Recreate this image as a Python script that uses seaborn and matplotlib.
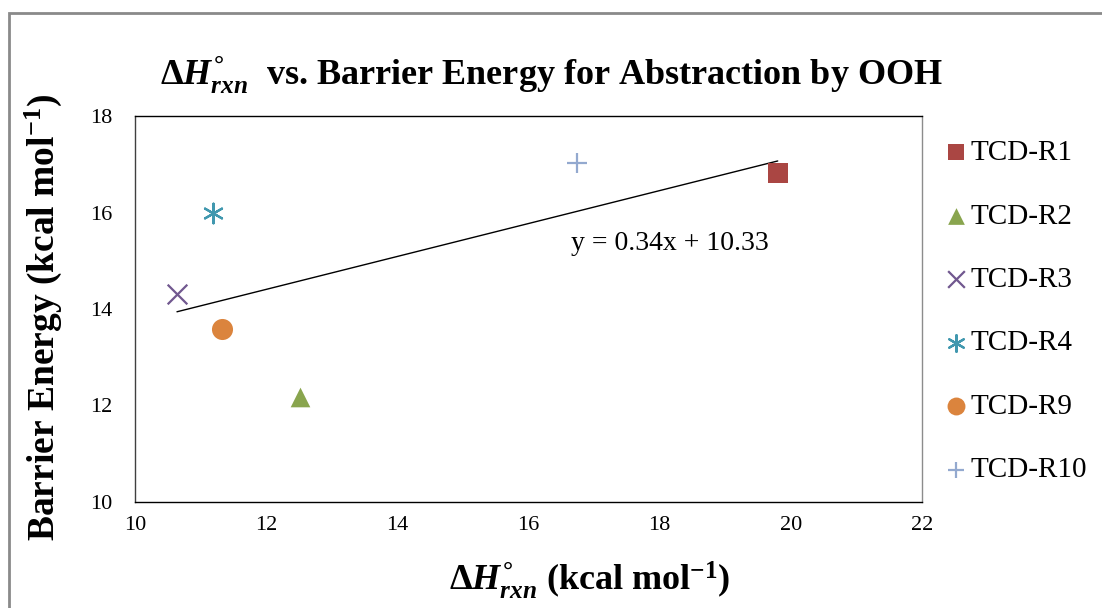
import numpy as np
import pandas as pd
import matplotlib
matplotlib.use('Agg')
import matplotlib.pyplot as plt
import seaborn as sns
from matplotlib.patches import Rectangle

# data
labels = ['TCD-R1', 'TCD-R2', 'TCD-R3', 'TCD-R4', 'TCD-R9', 'TCD-R10']
dh_rxn = [19.80, 12.51, 10.64, 11.19, 11.32, 16.74]
barrier = [16.82, 12.18, 14.31, 15.99, 13.59, 17.03]
colors = ['#AA4643', '#89A54E', '#71588F', '#4198AF', '#DB843D', '#93A9CF']
markers = ['s', '^', 'x', (6, 2, 0), 'o', '+']
x_ticks = [10, 12, 14, 16, 18, 20, 22]
y_ticks = [10, 12, 14, 16, 18]

df = pd.DataFrame({'dh': dh_rxn, 'barrier': barrier, 'series': labels})

sns.set_style('white')
plt.rcParams['font.family'] = ['Liberation Serif', 'DejaVu Serif']
plt.rcParams['text.color'] = 'black'
plt.rcParams['xtick.color'] = 'black'
plt.rcParams['ytick.color'] = 'black'
plt.rcParams['mathtext.fontset'] = 'custom'
plt.rcParams['mathtext.rm'] = 'Liberation Serif:bold'
plt.rcParams['mathtext.it'] = 'Liberation Serif:italic:bold'
plt.rcParams['mathtext.bf'] = 'Liberation Serif:bold'

fig = plt.figure(figsize=(11.02, 6.08), dpi=100)
ax = fig.add_axes([135 / 1102, 1 - 502 / 608, 787 / 1102, 386 / 608])

# scatter series, one marker each
for i, lab in enumerate(labels):
    sub = df[df['series'] == lab]
    filled = markers[i] in ['s', '^', 'o']
    size = {'s': 190, '^': 200, 'o': 230}.get(markers[i], 200)
    sns.scatterplot(data=sub, x='dh', y='barrier', ax=ax, marker=markers[i],
                    color=colors[i], s=size, label=lab,
                    linewidth=0 if filled else 1.6, zorder=3)

# linear trendline
sns.regplot(data=df, x='dh', y='barrier', ax=ax, scatter=False, ci=None,
            truncate=True, color='black', line_kws={'linewidth': 1})
ax.text(16.65, 15.35, 'y = 0.34x + 10.33', fontsize=20, ha='left', va='center')

ax.set_xlim(10, 22)
ax.set_ylim(10, 18)
ax.set_xticks(x_ticks)
ax.set_yticks(y_ticks)
ax.tick_params(axis='both', length=0, labelsize=16)
ax.tick_params(axis='x', pad=10)
ax.tick_params(axis='y', pad=16)
ax.set_xlabel('')
ax.set_ylabel('')
ax.grid(False)
for side in ['left', 'bottom', 'top']:
    ax.spines[side].set_color('black')
    ax.spines[side].set_linewidth(1.0)
ax.spines['left'].set_color('#404040')
ax.spines['right'].set_color('#8c8c8c')
ax.spines['right'].set_linewidth(1.0)

fig.text(551 / 1102, 1 - 75 / 608, 'Δ$H^{°}_{rxn}$  vs. Barrier Energy for Abstraction by OOH',
         ha='center', va='center', fontsize=26, fontweight='bold')
fig.text(590 / 1102, 1 - 580 / 608, 'Δ$H^{°}_{rxn}$ (kcal mol$^{-1}$)',
         ha='center', va='center', fontsize=26, fontweight='bold')
fig.text(43 / 1102, 1 - 317 / 608, 'Barrier Energy (kcal mol$^{-1}$)',
         ha='center', va='center', rotation=90, fontsize=27, fontweight='bold')

leg = ax.legend(loc='upper left', bbox_to_anchor=(930 / 1102, 1 - 128 / 608),
                bbox_transform=fig.transFigure, frameon=False, fontsize=21,
                labelspacing=1.27, handletextpad=0.0, handlelength=1.0,
                markerscale=0.85, borderaxespad=0)

# outer chart border (left and top visible)
fig.patches.append(Rectangle((9 / 1102, -0.1), 1.2, 1 - 13 / 608 + 0.1,
                             transform=fig.transFigure, fill=False,
                             edgecolor='#8a8a8a', linewidth=2))

fig.savefig('out.png', dpi=100)
